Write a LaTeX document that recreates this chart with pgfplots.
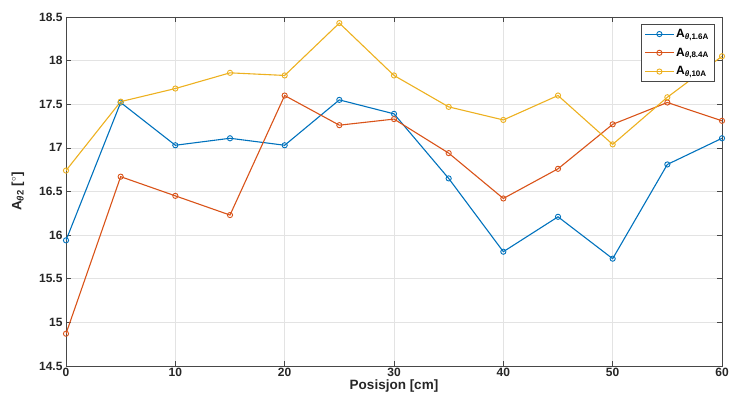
\documentclass[border=0pt]{standalone}
\usepackage{pgfplots}
\pgfplotsset{compat=1.18}
\usepackage{fontspec}
\setmainfont{Liberation Sans}
\definecolor{mblue}{RGB}{0,114,189}
\definecolor{morange}{RGB}{217,83,25}
\definecolor{myellow}{RGB}{237,177,32}
\definecolor{axgray}{RGB}{38,38,38}
\begin{document}
\begin{tikzpicture}
\begin{axis}[
  scale only axis,
  width=656pt, height=349pt,
  xmin=0, xmax=60, ymin=14.5, ymax=18.5,
  xtick={0,10,...,60},
  ytick={14.5,15,...,18.5},
  yticklabel style={/pgf/number format/.cd,fixed,fixed zerofill=false,precision=1},
  /pgf/number format/assume math mode=true,
  ticklabel style={font=\fontsize{12}{14}\selectfont\bfseries, text=axgray},
  xticklabel style={yshift=1pt},
  grid=major,
  major grid style={draw=gray!22, line width=0.6pt},
  axis line style={draw=axgray!85, line width=0.7pt},
  tick style={draw=axgray!85, line width=0.7pt},
  tick align=inside,
  major tick length=5pt,
  xlabel={\bfseries Posisjon [cm]},
  ylabel={\bfseries A\textsubscript{\textit{θ}2} [$^\circ$]},
  label style={font=\fontsize{13.5}{15}\selectfont, text=axgray},
  xlabel style={yshift=4pt},
  ylabel style={yshift=8pt},
  legend style={at={(rel axis cs:0.988,0.98)}, anchor=north east,
    font=\fontsize{12}{14}\selectfont\bfseries, draw=axgray!85,
    row sep=5pt, inner sep=3pt},
  legend cell align=left,
  legend image code/.code={\draw[mark repeat=2,mark phase=2] plot coordinates {(0cm,0cm) (0.5cm,0cm) (1.0cm,0cm)};},
  every axis plot/.append style={line width=1.1pt, mark=o, mark size=2.6pt, mark options={line width=0.9pt}},
]
\addplot[color=mblue] coordinates {
(0,15.94) (5,17.52) (10,17.03) (15,17.11) (20,17.03) (25,17.55) (30,17.39)
(35,16.65) (40,15.81) (45,16.21) (50,15.73) (55,16.81) (60,17.11)};
\addlegendentry{A\textsubscript{\textit{θ},1.6A}}
\addplot[color=morange] coordinates {
(0,14.87) (5,16.67) (10,16.45) (15,16.23) (20,17.60) (25,17.26) (30,17.33)
(35,16.94) (40,16.42) (45,16.76) (50,17.27) (55,17.52) (60,17.31)};
\addlegendentry{A\textsubscript{\textit{θ},8.4A}}
\addplot[color=myellow] coordinates {
(0,16.74) (5,17.53) (10,17.68) (15,17.86) (20,17.83) (25,18.43) (30,17.83)
(35,17.47) (40,17.32) (45,17.60) (50,17.04) (55,17.58) (60,18.05)};
\addlegendentry{A\textsubscript{\textit{θ},10A}}
\end{axis}
\pgfresetboundingbox
\path (current axis.south west) ++(-66pt,-43pt) rectangle ++(730pt,409pt);
\end{tikzpicture}
\end{document}
